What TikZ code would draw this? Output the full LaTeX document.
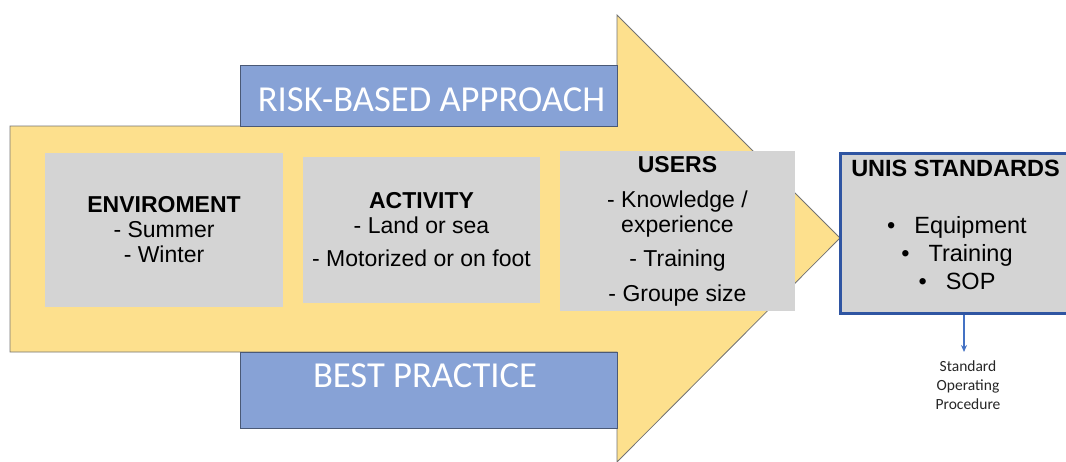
\documentclass[tikz,border=0pt]{standalone}
\usepackage{fontspec}
\setmainfont{Liberation Sans}
\newfontfamily\calfont{Carlito}
\usetikzlibrary{arrows.meta}
\definecolor{arrowyellow}{HTML}{FDE08D}
\definecolor{bandblue}{HTML}{87A2D6}
\definecolor{boxgray}{HTML}{D4D4D4}
\definecolor{unisblue}{HTML}{2F55A2}
\definecolor{linkblue}{HTML}{4472C4}
\begin{document}
\begin{tikzpicture}[x=1pt,y=-1pt,
  band/.style={draw=bandblue!55!black, line width=0.8pt, fill=bandblue, inner sep=0pt},
  bandtext/.style={text=white, inner sep=0pt, font=\calfont\fontsize{36.6}{40}\selectfont},
  graybox/.style={fill=boxgray, draw=none, inner sep=0pt, align=center, font=\fontsize{23}{25}\selectfont},
  unisbox/.style={fill=boxgray, draw=unisblue, line width=3pt, inner sep=0pt},
  unistext/.style={inner sep=0pt, align=center, font=\fontsize{23.5}{28}\selectfont},
  notetext/.style={inner sep=0pt, align=center, text=black!85, font=\calfont\fontsize{15.5}{19}\selectfont},
  linkarrow/.style={draw=linkblue, line width=1.5pt, -{Stealth[length=7pt,width=6pt]}}]
\clip (0,0) rectangle (1066,461);
% big arrow
\draw[fill=arrowyellow, draw=black!55, line width=0.8pt]
  (10,126) -- (617,126) -- (617,15) -- (840,238) -- (617,462) -- (617,352) -- (10,352) -- cycle;
% blue bands
\node[band, minimum width=377, minimum height=61] (risk) at (428.5,95.5) {};
\node[bandtext] (risktext) at (431.5,100) {RISK-BASED APPROACH};
\node[band, minimum width=377, minimum height=76] (best) at (428.5,390) {};
\node[bandtext] (besttext) at (425,376) {BEST PRACTICE};
% gray boxes
\node[graybox, minimum width=238, minimum height=154] (env) at (164,230)
  {\textbf{ENVIROMENT}\\- Summer\\- Winter};
\node[graybox, minimum width=237, minimum height=146] (act) at (421.5,230)
  {\textbf{ACTIVITY}\\- Land or sea\\[8pt]- Motorized or on foot};
\node[graybox, minimum width=235, minimum height=160] (users) at (677.5,231)
  {\textbf{USERS}\\[10pt]- Knowledge /\\\hphantom{- }\rlap{experience}\hphantom{Knowledge /}\\[9pt]- Training\\[10pt]- Groupe size};
% UNIS box
\node[unisbox, minimum width=228, minimum height=160] (unis) at (954,233) {};
\node[unistext] (unistitle) at (955.5,168) {\textbf{UNIS STANDARDS}};
\node[unistext] (unislist) at (957,253)
  {\textbullet\hspace{19pt}Equipment\\\textbullet\hspace{19pt}Training\\\textbullet\hspace{19pt}SOP};
% note
\node[notetext] (sopnote) at (968,385) {Standard\\Operating\\Procedure};
\coordinate (notetip) at (964,352);
\draw[linkarrow] ([xshift=10pt]unis.south) -- (notetip);
\end{tikzpicture}
\end{document}
